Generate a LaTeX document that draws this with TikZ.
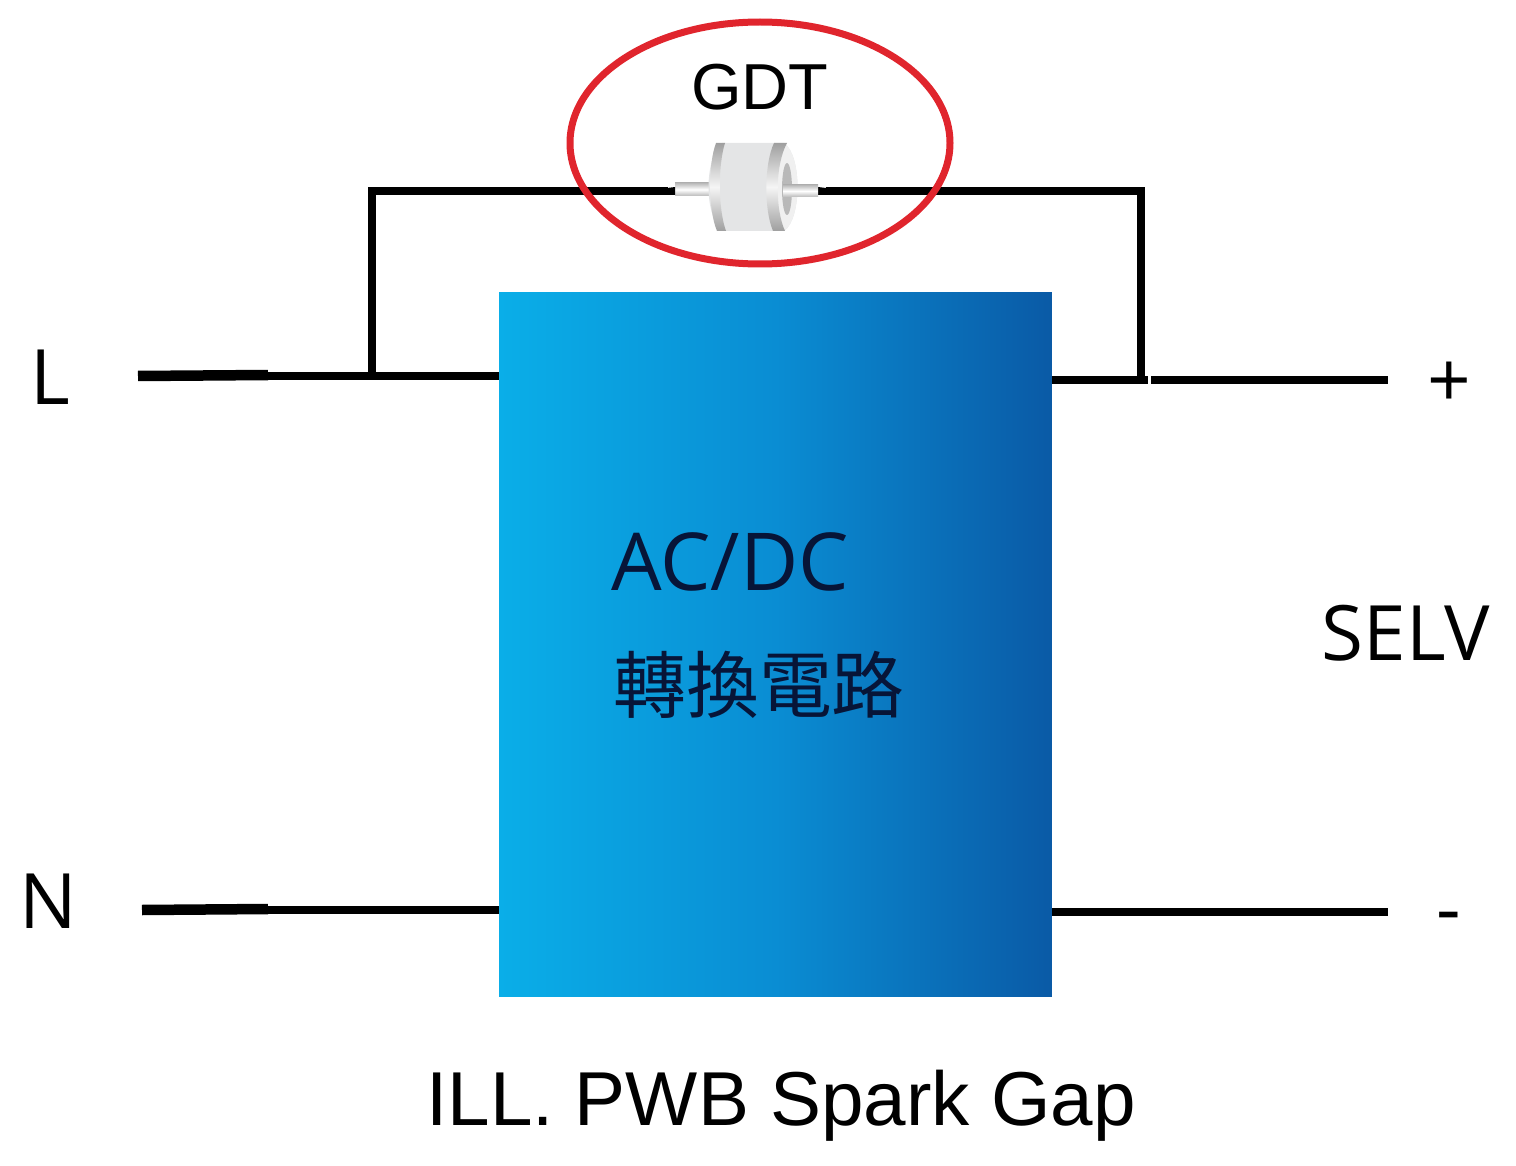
\documentclass[tikz,border=0pt]{standalone}
\usepackage{fontspec}
\setmainfont{Liberation Sans}
\newfontfamily\uifont{Open Sans}
\newfontfamily\cjkfont{Noto Sans CJK TC}
\usetikzlibrary{shapes.geometric}
\definecolor{boxleft}{HTML}{0AAEE8}
\definecolor{boxmid}{HTML}{0A8DD3}
\definecolor{boxright}{HTML}{0A5AA6}
\definecolor{boxtext}{HTML}{071538}
\definecolor{ringred}{HTML}{E0252D}
\definecolor{gdtbody}{HTML}{E4E5E6}
\tikzset{
  wire/.style={line width=0.16cm,black},
  wirelead/.style={line width=0.21cm,black},
  loopwire/.style={line width=0.145cm,black,line join=miter},
  sidelabel/.style={inner sep=0pt,font=\uifont\fontsize{43.5}{43.5}\selectfont},
  arial/.style={inner sep=0pt,font=\fontsize{#1}{#1}\selectfont},
  band/.style={draw=none,top color=gray!75,bottom color=gray!75,middle color=gray!8},
  pin/.style={draw=none,top color=gray!55,bottom color=gray!55,middle color=white},
}
\begin{document}
\begin{tikzpicture}[x=0.02cm,y=-0.02cm]
  \useasboundingbox (0,0) rectangle (1516,1166);

  \node[draw=none,minimum width=11.06cm,minimum height=14.1cm,inner sep=0pt,
    left color=boxleft,right color=boxright,middle color=boxmid] (conv) at (775.5,644.5) {};

  \coordinate (lineL) at (138,376);
  \coordinate (leadL) at (268,375);
  \coordinate (lineN) at (142,910);
  \coordinate (leadN) at (268,909);
  \coordinate (plusjoin) at (1148,380);
  \coordinate (plusstart) at (1151,380);
  \coordinate (plusend) at (1388,380);
  \coordinate (minusend) at (1388,912);
  \coordinate (juncL) at (372,376);
  \coordinate (juncR) at (1141,384);
  \coordinate (gdtin) at (668,191);
  \coordinate (gdtout) at (826,191);

  \draw[wire] (lineL) -- (lineL -| conv.west);
  \draw[wirelead] (lineL) -- (leadL);
  \draw[wire] (lineN) -- (lineN -| conv.west);
  \draw[wirelead] (lineN) -- (leadN);
  \draw[wire] (plusend -| conv.east) -- (plusjoin);
  \draw[wire] (plusstart) -- (plusend);
  \draw[wire] (minusend -| conv.east) -- (minusend);
  \draw[loopwire] (juncL) |- (gdtin);
  \draw[loopwire] (gdtout) -| (juncR);

  % the tube
  \shade[pin] (675,183) rectangle (712,196);
  \fill[black] (667,188) -- (675,187) -- (675,195) -- (667,195) -- cycle;
  \fill[black] (818,187) -- (826,188) -- (826,195) -- (818,195) -- cycle;
  \fill[gdtbody] (722,143) -- (784,143)
    .. controls (802,155) and (802,219) .. (784,231) -- (722,231)
    .. controls (704,215) and (704,159) .. (722,143) -- cycle;
  \fill[gray!12] (784,143)
    .. controls (802,155) and (802,219) .. (784,231)
    .. controls (766,219) and (766,155) .. (784,143) -- cycle;
  \shade[band] (716,143) -- (725,143)
    .. controls (718,165) and (718,209) .. (726,231) -- (717,231)
    .. controls (708,210) and (708,164) .. (716,143) -- cycle;
  \shade[band] (774,143) -- (787,143)
    .. controls (775,165) and (775,209) .. (785,231) -- (773,231)
    .. controls (764,210) and (764,164) .. (774,143) -- cycle;
  \fill[gray!55] (787,189) ellipse [x radius=5,y radius=26];
  \shade[pin] (783,185) rectangle (818,197);

  \draw[ringred,line width=0.14cm] (760,143) ellipse [x radius=190,y radius=121];

  \node[arial=37] (gdtlabel) at (760,87) {GDT};
  \node[sidelabel] (labelL) at (50,377) {L};
  \node[sidelabel] (labelN) at (48,901) {N};
  \node[sidelabel] (labelplus) at (1449,385) {+};
  \node[sidelabel] (labelminus) at (1449,924) {-};
  \node[sidelabel] (selv) at (1406,633) {SELV};
  \node[inner sep=0pt,text=boxtext,font=\uifont\fontsize{45.5}{45.5}\selectfont] (acdc) at (730,562) {AC/DC};
  \node[inner sep=0pt,text=boxtext,font=\cjkfont\fontsize{41.5}{41.5}\selectfont] (convlabel) at (759,685) {轉換電路};
  \node[arial=43.5] (caption) at (781,1106) {ILL. PWB Spark Gap};
\end{tikzpicture}
\end{document}
